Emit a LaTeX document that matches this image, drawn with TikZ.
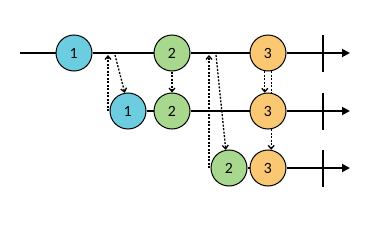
\documentclass[tikz,border=0pt]{standalone}
\usepackage{fontspec}
\setmainfont{Lato}
\usetikzlibrary{arrows.meta}
\definecolor{ballA}{HTML}{6CCCE0}
\definecolor{ballB}{HTML}{A8D88E}
\definecolor{ballC}{HTML}{FAC773}
\tikzset{
  ball/.style={circle, draw=black, line width=1pt, minimum size=36pt, inner sep=0pt,
    font=\fontsize{14}{16}\selectfont},
  timeline/.style={line width=1.8pt, -{Triangle[length=8pt,width=8pt]}},
  endbar/.style={line width=1.8pt},
  dasharrow/.style={line width=1.3pt, dash pattern=on 2pt off 1.5pt, -{Straight Barb[length=3.5pt,width=6pt]}},
  dashline/.style={line width=1.3pt, dash pattern=on 2pt off 1.5pt}
}
\begin{document}
\begin{tikzpicture}[x=1pt,y=-1pt]
  \useasboundingbox (0,0) rectangle (375,225);

  % 第一行
  \coordinate (s1) at (20,53);
  \coordinate (e1) at (350,53);
  \node[ball, fill=ballA] (r1a) at (74,53) {1};
  \node[ball, fill=ballB] (r1b) at (172,53) {2};
  \node[ball, fill=ballC] (r1c) at (268,53) {3};
  \draw[endbar] (s1) -- (r1a);
  \draw[endbar] (r1a) -- (r1b);
  \draw[endbar] (r1b) -- (r1c);
  \draw[timeline] (r1c) -- (e1);
  \draw[endbar] (323,35) -- (323,72);

  % 第二行
  \coordinate (e2) at (350,111);
  \node[ball, fill=ballA] (r2a) at (128,111) {1};
  \node[ball, fill=ballB] (r2b) at (172,111) {2};
  \node[ball, fill=ballC] (r2c) at (268,111) {3};
  \draw[endbar] (r2a) -- (r2b);
  \draw[endbar] (r2b) -- (r2c);
  \draw[timeline] (r2c) -- (e2);
  \draw[endbar] (323,93) -- (323,130);

  % 第三行
  \coordinate (e3) at (350,168);
  \node[ball, fill=ballB] (r3a) at (229,168) {2};
  \node[ball, fill=ballC] (r3b) at (268,168) {3};
  \draw[endbar] (r3a) -- (r3b);
  \draw[timeline] (r3b) -- (e3);
  \draw[endbar] (323,150) -- (323,187);

  % 虚线箭头
  \coordinate (t1) at (108,55);
  \coordinate (t2) at (115,55);
  \coordinate (t3) at (209,55);
  \coordinate (t4) at (216,55);
  \draw[dasharrow] (r2a.west -| t1) -- (t1);
  \draw[dasharrow] (t2) -- (r2a.100);
  \draw[dasharrow] (r1b.south) -- (r2b.north);
  \draw[dasharrow] (r3a.west -| t3) -- (t3);
  \draw[dasharrow] (t4) -- (r3a.100);
  \draw[dasharrow] (r1c.-100) -- (r2c.100);
  \draw[dashline] (r1c.-80) -- (r2c.80);
  \draw[dasharrow] (r2c.-80) -- (r3b.80);
\end{tikzpicture}
\end{document}
